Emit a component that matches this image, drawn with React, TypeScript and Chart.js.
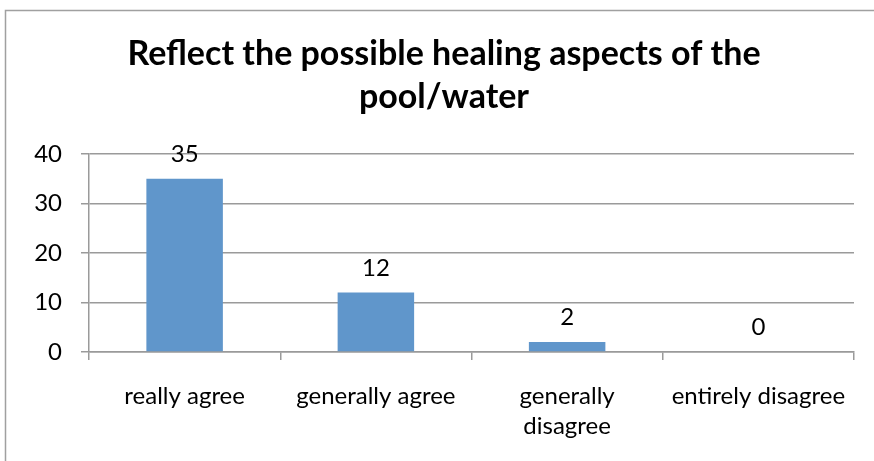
import React, { useEffect, useRef } from "react";
import { Chart, registerables } from "chart.js";

Chart.register(...registerables);

const TITLE_LINES = ["Reflect the possible healing aspects of the", "pool/water"];
const CATEGORIES: (string | string[])[] = [
  "really agree",
  "generally agree",
  ["generally", "disagree"],
  "entirely disagree",
];
const VALUES = [35, 12, 2, 0];
const Y_MIN = 0;
const Y_MAX = 40;
const Y_STEP = 10;

const FONT = "Lato, 'Open Sans', sans-serif";
const BAR_COLOR = "#6096cb";
const GRID = "#9a9a9a";

export default function App() {
  const ref = useRef<HTMLCanvasElement>(null);

  useEffect(() => {
    document.body.style.margin = "0";
    const canvas = ref.current;
    if (!canvas) return;

    const framePlugin = {
      id: "frame",
      beforeDraw(chart: any) {
        const c = chart.ctx;
        c.save();
        c.strokeStyle = "#a0a0a0";
        c.lineWidth = 1.5;
        c.strokeRect(5.5, 10.5, 1000, 1000);
        c.restore();
      },
    };

    const labelPlugin = {
      id: "valueLabels",
      afterDatasetsDraw(chart: any) {
        const c = chart.ctx;
        const meta = chart.getDatasetMeta(0);
        c.save();
        c.font = `24px ${FONT}`;
        c.fillStyle = "#000";
        c.textAlign = "center";
        c.textBaseline = "alphabetic";
        meta.data.forEach((bar: any, i: number) => {
          c.fillText(String(VALUES[i]), bar.x, bar.y - 17);
        });
        c.restore();
      },
    };

    const chart = new Chart(canvas, {
      type: "bar",
      data: {
        labels: CATEGORIES as any,
        datasets: [
          {
            data: VALUES,
            backgroundColor: BAR_COLOR,
            barPercentage: 0.4,
            categoryPercentage: 1,
          },
        ],
      },
      options: {
        animation: false,
        responsive: false,
        layout: { padding: { left: 34, right: 20, top: 33, bottom: 0 } },
        plugins: {
          legend: { display: false },
          tooltip: { enabled: false },
          title: {
            display: true,
            text: TITLE_LINES,
            color: "#000",
            font: { family: FONT, size: 34, weight: "bold", lineHeight: 1.265 },
            padding: { top: 0, bottom: 35 },
          },
        },
        scales: {
          x: {
            grid: {
              drawOnChartArea: false,
              drawTicks: true,
              tickLength: 8,
              offset: true,
              color: GRID,
              lineWidth: 1.5,
            },
            border: { color: GRID, width: 1.5 },
            ticks: {
              color: "#000",
              font: { family: FONT, size: 24, lineHeight: 1.25 },
              padding: 21.5,
              maxRotation: 0,
              autoSkip: false,
            },
            afterFit(scale: any) {
              scale.height = 109;
            },
          },
          y: {
            min: Y_MIN,
            max: Y_MAX,
            grid: { color: GRID, lineWidth: 1.5, tickLength: 8 },
            border: { color: GRID, width: 1.5 },
            ticks: {
              stepSize: Y_STEP,
              color: "#000",
              font: { family: FONT, size: 24 },
              padding: 19,
            },
            afterFit(scale: any) {
              scale.width = 55;
            },
          },
        },
      },
      plugins: [framePlugin, labelPlugin],
    });

    return () => chart.destroy();
  }, []);

  return <canvas ref={ref} width={874} height={461} style={{ display: "block" }} />;
}
